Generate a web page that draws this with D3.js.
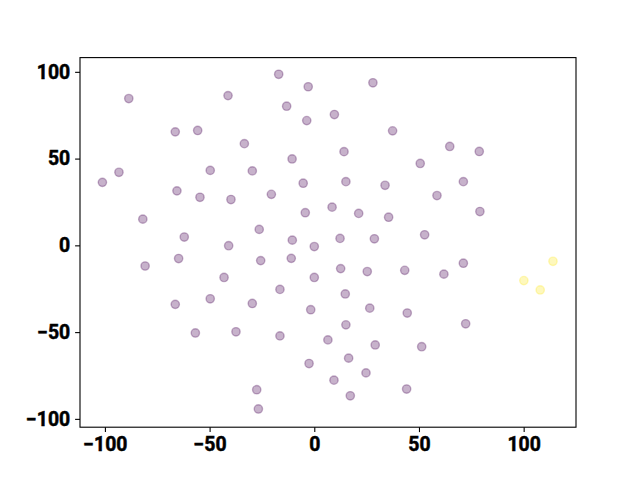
<!DOCTYPE html>
<html>
<head>
<meta charset="utf-8">
<script src="https://cdn.jsdelivr.net/npm/d3@7"></script>
<style>
  body { margin: 0; background: #fff; }
  .tick text { font-family: Roboto, "DejaVu Sans", sans-serif; font-weight: bold; }
</style>
</head>
<body>
<svg></svg>
<script>
// point coordinates, plus class (0 = purple, 1 = yellow)
var xs = [-17.0, -2.9, -88.6, -41.2, 28.0, -13.2, 9.6, -3.6, -66.4, -55.7,
  37.4, -33.4, 64.7, 14.2, 78.8, -10.6, 50.6, -93.3, -101.2, -49.7,
  -29.6, -5.3, 15.1, 33.8, 71.2, -65.6, -54.6, -39.8, -20.5, 58.6,
  -4.3, 8.5, 21.2, 35.5, 79.1, -81.9, -26.3, -62.1, -10.5, 12.3,
  28.7, 52.7, -40.9, 0.0, -80.8, -64.8, -25.6, -11.0, 12.6, 25.3,
  43.2, 61.9, 71.2, 114.0, 100.1, 107.9, -43.1, 0.0, -16.4, 14.8,
  -66.4, -49.7, -29.6, -1.7, 26.5, 44.4, 15.1, 72.3, -56.8, -37.4,
  -16.4, 6.5, 29.1, 51.3, -2.5, 16.4, 24.7, 9.4, 17.2, 44.1,
  -27.5, -26.7];
var ys = [98.6, 91.4, 84.6, 86.3, 93.7, 80.2, 75.4, 71.9, 65.4, 66.2,
  66.0, 58.6, 57.0, 54.0, 54.1, 49.8, 47.2, 42.1, 36.3, 43.2,
  42.9, 35.8, 36.7, 34.6, 36.7, 31.4, 27.7, 26.4, 29.4, 28.7,
  18.8, 22.0, 18.4, 16.2, 19.5, 15.1, 9.2, 4.8, 3.0, 4.0,
  3.8, 6.1, -0.2, -0.7, -11.9, -7.6, -8.8, -7.5, -13.4, -15.1,
  -14.4, -16.6, -10.3, -9.2, -20.3, -25.7, -18.5, -18.5, -25.4, -28.0,
  -34.0, -30.8, -33.5, -37.1, -36.2, -39.0, -45.8, -45.2, -50.5, -49.8,
  -52.2, -54.5, -57.4, -58.4, -68.1, -65.0, -73.5, -77.7, -86.7, -82.8,
  -83.2, -94.3];
var labels = [0, 0, 0, 0, 0, 0, 0, 0, 0, 0,
  0, 0, 0, 0, 0, 0, 0, 0, 0, 0,
  0, 0, 0, 0, 0, 0, 0, 0, 0, 0,
  0, 0, 0, 0, 0, 0, 0, 0, 0, 0,
  0, 0, 0, 0, 0, 0, 0, 0, 0, 0,
  0, 0, 0, 1, 1, 1, 0, 0, 0, 0,
  0, 0, 0, 0, 0, 0, 0, 0, 0, 0,
  0, 0, 0, 0, 0, 0, 0, 0, 0, 0,
  0, 0];
var xTicks = [-100, -50, 0, 50, 100];
var yTicks = [-100, -50, 0, 50, 100];

var width = 640;
var height = 480;
var margin = {top: 57.6, right: 64, bottom: 52.8, left: 80};

var svg = d3.select('svg')
    .attr('width', width)
    .attr('height', height);

var x = d3.scaleLinear()
    .domain([-111.9, 125.0])
    .range([margin.left, width - margin.right]);

var y = d3.scaleLinear()
    .domain([-104.8, 108.2])
    .range([height - margin.bottom, margin.top]);

var color = d3.scaleSequential(d3.interpolateViridis).domain([0, 1]);

var points = xs.map(function (d, i) { return {x: d, y: ys[i], c: labels[i]}; });

svg.append('g')
    .selectAll('circle')
    .data(points)
    .enter()
    .append('circle')
    .attr('cx', function (d) { return x(d.x); })
    .attr('cy', function (d) { return y(d.y); })
    .attr('r', 4.17)
    .style('fill', function (d) { return color(d.c); })
    .style('fill-opacity', 0.3)
    .style('stroke', function (d) { return color(d.c); })
    .style('stroke-opacity', 0.3)
    .style('stroke-width', 1.4);

// frame
svg.append('rect')
    .attr('x', margin.left)
    .attr('y', margin.top)
    .attr('width', width - margin.left - margin.right)
    .attr('height', height - margin.top - margin.bottom)
    .style('fill', 'none')
    .style('stroke', '#000')
    .style('stroke-width', 1.1);

var xAxis = svg.append('g')
    .attr('transform', 'translate(0,' + (height - margin.bottom) + ')')
    .call(d3.axisBottom(x).tickValues(xTicks).tickSize(4.9).tickPadding(4.9).tickFormat(d3.format('d')));

var yAxis = svg.append('g')
    .attr('transform', 'translate(' + margin.left + ',0)')
    .call(d3.axisLeft(y).tickValues(yTicks).tickSize(4.9).tickPadding(4.9).tickFormat(d3.format('d')));

[xAxis, yAxis].forEach(function (a) {
  a.select('.domain').remove();
  a.selectAll('.tick line').style('stroke', '#000').style('stroke-width', 1.1);
  // a thin outline to get closer to the heavier glyphs of the original
  a.selectAll('.tick text').attr('font-size', 19.4).style('fill', '#000')
      .style('stroke', '#000').style('stroke-width', 0.5);
});
</script>
</body>
</html>
